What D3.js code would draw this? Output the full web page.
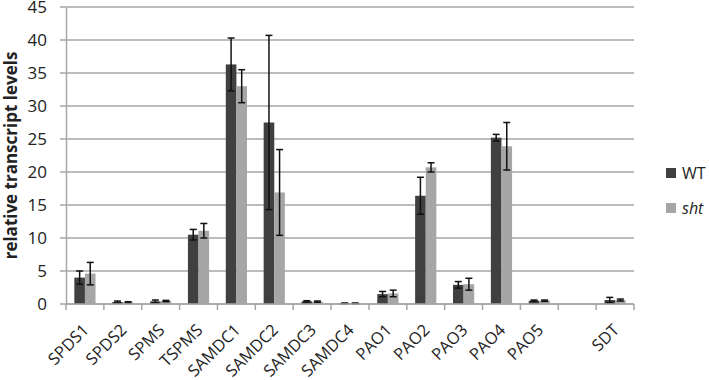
<!DOCTYPE html>
<html>
<head>
<meta charset="utf-8">
<script src="https://cdn.jsdelivr.net/npm/d3@7"></script>
<style>
  body { margin: 0; background: #fff; }
  text { font-family: "Open Sans", "Liberation Sans", Arial, sans-serif; }
</style>
</head>
<body>
<div id="chart"></div>
<script>
var categories = ['SPDS1', 'SPDS2', 'SPMS', 'TSPMS', 'SAMDC1', 'SAMDC2', 'SAMDC3', 'SAMDC4',
    'PAO1', 'PAO2', 'PAO3', 'PAO4', 'PAO5', '', 'SDT'];
var wtValues  = [4.0, 0.3, 0.4, 10.5, 36.3, 27.5, 0.4, 0.1, 1.5, 16.4, 2.9, 25.2, 0.5, null, 0.6];
var wtErrors  = [1.0, 0.15, 0.2, 0.8, 4.0, 13.2, 0.1, 0.05, 0.4, 2.8, 0.5, 0.5, 0.1, null, 0.4];
var shtValues = [4.6, 0.25, 0.45, 11.1, 33.0, 16.9, 0.35, 0.1, 1.6, 20.7, 3.0, 23.9, 0.5, null, 0.6];
var shtErrors = [1.7, 0.1, 0.1, 1.1, 2.5, 6.5, 0.1, 0.05, 0.5, 0.7, 0.9, 3.6, 0.1, null, 0.15];
var yTicks = [0, 5, 10, 15, 20, 25, 30, 35, 40, 45];

var margin = {top: 7, bottom: 76, left: 66, right: 75};
var width = 709 - margin.left - margin.right,
    height = 380 - margin.top - margin.bottom;

var svg = d3.select('#chart').append('svg')
    .attr('width', 709)
    .attr('height', 380);

var g = svg.append('g')
    .attr('transform', 'translate(' + margin.left + ',' + margin.top + ')');

var x = d3.scaleBand()
    .domain(d3.range(categories.length))
    .range([0, width])
    .paddingInner(0)
    .paddingOuter(0);

var y = d3.scaleLinear()
    .domain([0, 45])
    .range([height, 0]);

var barW = x.bandwidth() * 0.28;
var gap = (x.bandwidth() - 2 * barW) / 2;

// gridlines
g.append('g')
    .selectAll('line')
    .data(yTicks)
    .enter()
    .append('line')
    .attr('x1', -6)
    .attr('x2', width)
    .attr('y1', function (d) { return y(d); })
    .attr('y2', function (d) { return y(d); })
    .attr('stroke', '#a6a6a6')
    .attr('stroke-width', 1.5);

// y axis
var yAxisCall = d3.axisLeft(y).tickValues(yTicks).tickSize(0).tickPadding(19);
var yAxis = g.append('g')
    .attr('class', 'y-axis')
    .call(yAxisCall);
yAxis.select('.domain').attr('stroke', '#a6a6a6').attr('stroke-width', 1.5);
yAxis.selectAll('text')
    .attr('font-size', '17px')
    .attr('dy', '0.34em')
    .attr('fill', '#222');

// bars
var series = [
    {name: 'WT', values: wtValues, errors: wtErrors, color: '#404040', off: 0},
    {name: 'sht', values: shtValues, errors: shtErrors, color: '#a6a6a6', off: 1}
];

series.forEach(function (s) {
    var data = s.values.map(function (v, i) {
        return {i: i, v: v, e: s.errors[i]};
    }).filter(function (d) { return d.v !== null; });

    g.append('g')
        .selectAll('rect')
        .data(data)
        .enter()
        .append('rect')
        .attr('x', function (d) { return x(d.i) + gap + s.off * barW; })
        .attr('y', function (d) { return y(d.v); })
        .attr('width', barW)
        .attr('height', function (d) { return height - y(d.v); })
        .attr('fill', s.color);

    var eg = g.append('g')
        .selectAll('g')
        .data(data)
        .enter()
        .append('g')
        .attr('stroke', '#111')
        .attr('stroke-width', 1.5);
    var cx = function (d) { return x(d.i) + gap + s.off * barW + barW / 2; };
    eg.append('line')
        .attr('x1', cx).attr('x2', cx)
        .attr('y1', function (d) { return y(d.v + d.e); })
        .attr('y2', function (d) { return y(Math.max(0, d.v - d.e)); });
    [1, -1].forEach(function (sg) {
        eg.append('line')
            .attr('x1', function (d) { return cx(d) - 3.5; })
            .attr('x2', function (d) { return cx(d) + 3.5; })
            .attr('y1', function (d) { return y(Math.max(0, d.v + sg * d.e)); })
            .attr('y2', function (d) { return y(Math.max(0, d.v + sg * d.e)); });
    });
});

// x axis
var xAxis = g.append('g')
    .attr('transform', 'translate(0,' + height + ')');
xAxis.append('line')
    .attr('x1', 0).attr('x2', width)
    .attr('stroke', '#a6a6a6').attr('stroke-width', 1.5);
xAxis.selectAll('.tick')
    .data(d3.range(categories.length + 1))
    .enter()
    .append('line')
    .attr('x1', function (d) { return d * x.step(); })
    .attr('x2', function (d) { return d * x.step(); })
    .attr('y1', 0).attr('y2', 6)
    .attr('stroke', '#a6a6a6').attr('stroke-width', 1.5);
xAxis.selectAll('text')
    .data(categories)
    .enter()
    .append('text')
    .attr('transform', function (d, i) {
        return 'translate(' + (x(i) + x.bandwidth() / 2 + 5) + ',27) rotate(-45)';
    })
    .attr('text-anchor', 'end')
    .attr('font-size', '16.5px')
    .attr('fill', '#222')
    .text(function (d) { return d; });

// y label
g.append('text')
    .attr('x', -(height / 2))
    .attr('y', -49)
    .attr('font-size', '17px')
    .attr('font-weight', 'bold')
    .attr('text-anchor', 'middle')
    .attr('transform', 'rotate(-90)')
    .attr('fill', '#222')
    .text('relative transcript levels');

// legend
var legend = svg.append('g')
    .attr('transform', 'translate(666,168)');
series.forEach(function (s, i) {
    var lg = legend.append('g').attr('transform', 'translate(0,' + (i * 35) + ')');
    lg.append('rect')
        .attr('width', 10).attr('height', 10)
        .attr('y', 0)
        .attr('fill', s.color);
    lg.append('text')
        .attr('x', 16)
        .attr('y', 10.5)
        .attr('font-size', '16px')
        .attr('font-style', i === 1 ? 'italic' : 'normal')
        .attr('fill', '#222')
        .text(s.name);
});
</script>
</body>
</html>
